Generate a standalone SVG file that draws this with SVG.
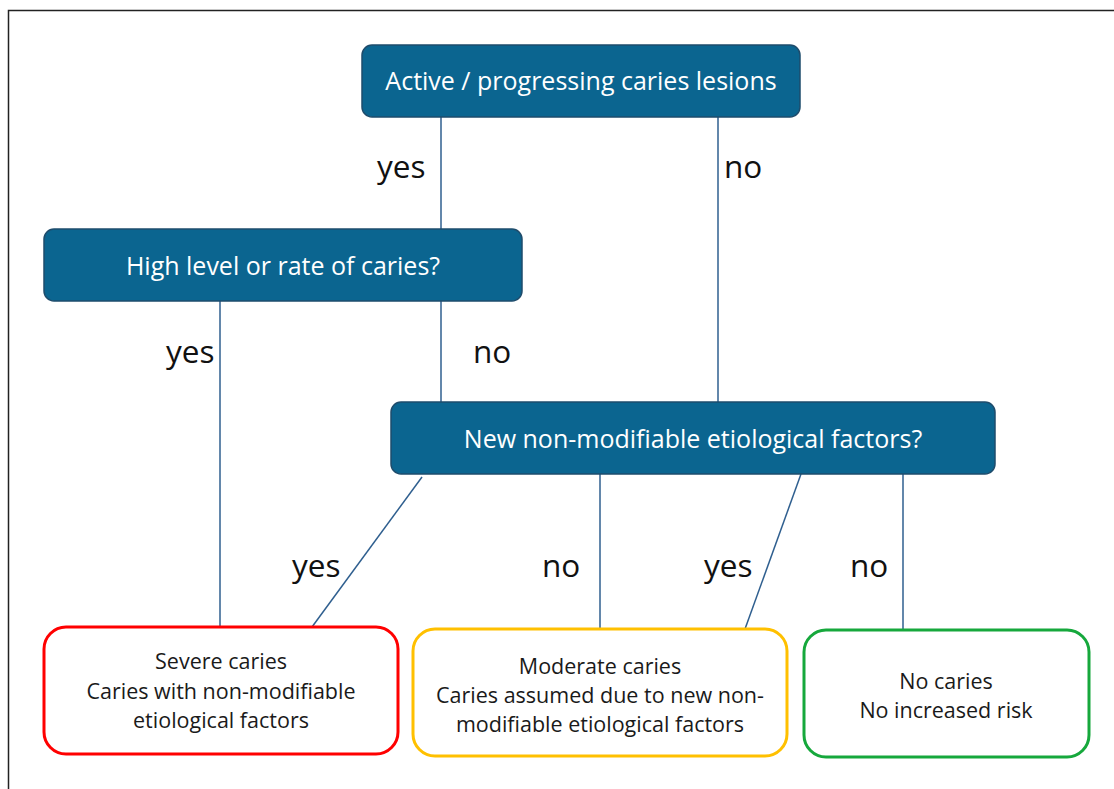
<svg xmlns="http://www.w3.org/2000/svg" width="1114" height="789" viewBox="0 0 1114 789">
<style>
.q{fill:#0B6590;stroke:#1E4C6C;stroke-width:1.5}
.qt{fill:#ffffff;font-family:"Open Sans","Liberation Sans",sans-serif;font-size:25px;text-anchor:middle}
.lbl{fill:#111111;font-family:"Open Sans","Liberation Sans",sans-serif;font-size:31.5px}
.out{fill:#ffffff;stroke-width:3}
.ot{fill:#1a1a1a;font-family:"Open Sans","Liberation Sans",sans-serif;font-size:21.5px;text-anchor:middle}
.c{stroke:#2F5F8F;stroke-width:1.5;fill:none}
</style>
<rect width="1114" height="789" fill="#ffffff"/>
<path d="M8.5,789 V10.5 H1114" fill="none" stroke="#222222" stroke-width="1.5"/>
<g id="connectors">
<line class="c" x1="441" y1="117" x2="441" y2="229"/>
<line class="c" x1="718" y1="117" x2="718" y2="402"/>
<line class="c" x1="220" y1="301" x2="220" y2="627"/>
<line class="c" x1="441" y1="301" x2="441" y2="402"/>
<line class="c" x1="422" y1="477" x2="312" y2="627"/>
<line class="c" x1="600" y1="474" x2="600" y2="629"/>
<line class="c" x1="801" y1="474" x2="745" y2="629"/>
<line class="c" x1="903" y1="474" x2="903" y2="630"/>
<text class="lbl" x="377" y="178">yes</text>
<text class="lbl" x="724" y="178">no</text>
<text class="lbl" x="166" y="363">yes</text>
<text class="lbl" x="473" y="363">no</text>
<text class="lbl" x="292" y="577">yes</text>
<text class="lbl" x="542" y="577">no</text>
<text class="lbl" x="704" y="577">yes</text>
<text class="lbl" x="850" y="577">no</text>
</g>
<g id="active">
<rect class="q" x="362" y="45" width="438" height="72" rx="10"/>
<text class="qt" x="581" y="90">Active / progressing caries lesions</text>
</g>
<g id="high">
<rect class="q" x="44" y="229" width="478" height="72" rx="10"/>
<text class="qt" x="283" y="275">High level or rate of caries?</text>
</g>
<g id="newfactors">
<rect class="q" x="391" y="402" width="604" height="72" rx="10"/>
<text class="qt" x="693" y="448">New non-modifiable etiological factors?</text>
</g>
<g id="severe">
<rect class="out" x="44" y="627" width="354" height="127" rx="22" stroke="#FF0000"/>
<text class="ot" x="221" y="669">Severe caries</text>
<text class="ot" x="221" y="699">Caries with non-modifiable</text>
<text class="ot" x="221" y="728">etiological factors</text>
</g>
<g id="moderate">
<rect class="out" x="413" y="629" width="374" height="127" rx="22" stroke="#FFC000"/>
<text class="ot" x="600" y="674">Moderate caries</text>
<text class="ot" x="600" y="703">Caries assumed due to new non-</text>
<text class="ot" x="600" y="732">modifiable etiological factors</text>
</g>
<g id="nocaries">
<rect class="out" x="804" y="630" width="285" height="127" rx="22" stroke="#16A83C"/>
<text class="ot" x="946" y="689">No caries</text>
<text class="ot" x="946" y="718">No increased risk</text>
</g>
</svg>
